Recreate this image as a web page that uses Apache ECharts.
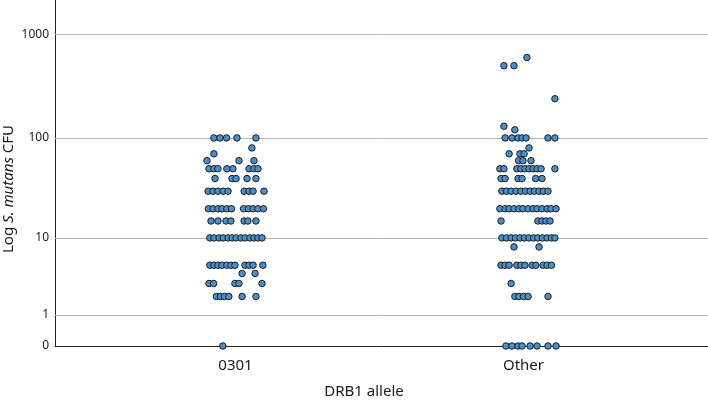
<!DOCTYPE html>
<html>
<head>
<meta charset="utf-8">
<script src="https://cdn.jsdelivr.net/npm/echarts@6/dist/echarts.min.js"></script>
<style>
  html, body { margin: 0; padding: 0; background: #fff; }
  #chart { width: 708px; height: 401px; }
</style>
</head>
<body>
<div id="chart"></div>
<script>
const categories = ['0301', 'Other'];
const yTicks = [0, 1, 10, 100, 1000];
const gridValues = [1, 10, 100, 1000];

// CFU level of each row of dots, and the sideways jitter of each dot in that row (category units)
const levels0301 = [100, 80, 70, 60, 50, 40, 30, 20, 15, 10, 5, 4, 3, 2, 0];
const jitter0301 = [
  [-0.075, -0.054, -0.031, 0.005, 0.071],
  [0.057],
  [-0.075],
  [-0.099, 0.012, 0.064],
  [-0.092, -0.075, -0.061, -0.030, -0.009, 0.047, 0.064, 0.078],
  [-0.071, -0.012, 0.002, 0.040, 0.071],
  [-0.095, -0.078, -0.061, -0.043, -0.026, 0.030, 0.047, 0.061, 0.099],
  [-0.094, -0.078, -0.061, -0.047, -0.030, -0.014, 0.028, 0.045, 0.061, 0.078, 0.097],
  [-0.085, -0.061, -0.033, -0.016, 0.030, 0.043, 0.071],
  [-0.089, -0.075, -0.057, -0.043, -0.026, -0.012, 0.002, 0.019, 0.033, 0.050, 0.064, 0.078, 0.092],
  [-0.089, -0.075, -0.061, -0.047, -0.030, -0.016, -0.002, 0.033, 0.047, 0.061, 0.095],
  [0.023, 0.068],
  [-0.092, -0.076, -0.002, 0.012, 0.092],
  [-0.066, -0.052, -0.038, -0.023, 0.023, 0.071],
  [-0.044]
];

const levelsOther = [600, 500, 240, 130, 120, 100, 80, 70, 60, 50, 40, 30, 20, 15, 10, 8, 5, 3, 2, 0];
const jitterOther = [
  [0.012],
  [-0.068, -0.033],
  [0.109],
  [-0.068],
  [-0.030],
  [-0.064, -0.040, -0.019, -0.005, 0.009, 0.085, 0.109],
  [0.019],
  [-0.050, -0.012, 0.002],
  [-0.017, -0.002, 0.026],
  [-0.082, -0.068, -0.023, -0.009, 0.005, 0.019, 0.033, 0.047, 0.061, 0.109],
  [-0.078, -0.064, -0.019, -0.005, 0.042, 0.064],
  [-0.075, -0.059, -0.043, -0.026, -0.009, 0.007, 0.023, 0.038, 0.054, 0.069, 0.085],
  [-0.082, -0.064, -0.050, -0.033, -0.016, -0.002, 0.016, 0.033, 0.047, 0.064, 0.082, 0.095, 0.113],
  [-0.078, 0.050, 0.064, 0.078, 0.092],
  [-0.075, -0.059, -0.043, -0.028, -0.012, 0.003, 0.019, 0.035, 0.050, 0.066, 0.082, 0.097, 0.109],
  [-0.033, 0.054],
  [-0.078, -0.064, -0.050, -0.023, -0.009, 0.005, 0.030, 0.043, 0.068, 0.082, 0.097],
  [-0.043],
  [-0.030, -0.016, 0, 0.016, 0.085],
  [-0.061, -0.040, -0.019, -0.005, 0.023, 0.047, 0.085, 0.113]
];

const FONT = 'Noto Sans';
const TEXT = '#1a1a1a';

// y is drawn as log10(CFU + 1) so that 0 fits on the scale
function logCfu(v) {
  return Math.log10(v + 1);
}

function buildPoints(groupIndex, levels, jitter) {
  const pts = [];
  levels.forEach((v, i) => {
    jitter[i].forEach(j => pts.push([groupIndex + j, logCfu(v)]));
  });
  return pts;
}

const dotStyle = { color: '#4b8fca', borderColor: '#1c1c1c', borderWidth: 1, opacity: 1 };

const chart = echarts.init(document.getElementById('chart'));
chart.setOption({
  animation: false,
  grid: { left: 55, right: 0, top: 0, bottom: 55, containLabel: false, outerBoundsMode: 'none' },
  xAxis: {
    type: 'value',
    min: -0.6267,
    max: 1.6406,
    axisLine: { show: true, onZero: false, lineStyle: { color: '#222', width: 1 } },
    axisTick: { show: false },
    splitLine: { show: false },
    axisLabel: {
      customValues: [0, 1],
      formatter: v => categories[Math.round(v)],
      fontFamily: FONT,
      fontSize: 15,
      color: TEXT,
      margin: 12
    }
  },
  yAxis: {
    type: 'value',
    min: 0,
    max: 3.333,
    axisLine: { show: true, onZero: false, lineStyle: { color: '#222', width: 1 } },
    axisTick: { show: false },
    splitLine: { show: false },
    axisLabel: {
      customValues: yTicks.map(logCfu),
      formatter: v => String(Math.round(Math.pow(10, v) - 1)),
      fontFamily: FONT,
      fontSize: 12,
      color: TEXT,
      margin: 6
    }
  },
  graphic: [
    {
      type: 'text',
      x: 9,
      y: 189,
      rotation: Math.PI / 2,
      style: {
        text: '{a|Log }{b|S. mutans}{a| CFU}',
        align: 'center',
        verticalAlign: 'middle',
        rich: {
          a: { fontFamily: FONT, fontSize: 15, fill: TEXT },
          b: { fontFamily: FONT, fontSize: 15, fontStyle: 'italic', fill: TEXT }
        }
      }
    },
    {
      type: 'text',
      x: 364,
      y: 392,
      style: {
        text: 'DRB1 allele',
        align: 'center',
        verticalAlign: 'middle',
        fontFamily: FONT,
        fontSize: 15,
        fill: TEXT
      }
    }
  ],
  series: [
    {
      // carries the horizontal reference lines under the dots
      type: 'scatter',
      data: [],
      z: 1,
      markLine: {
        silent: true,
        z: 1,
        symbol: 'none',
        label: { show: false },
        lineStyle: { color: '#b5b5b5', width: 1, type: 'solid' },
        data: gridValues.map(v => ({ yAxis: logCfu(v) }))
      }
    },
    {
      name: categories[0],
      type: 'scatter',
      z: 3,
      symbolSize: 6.5,
      itemStyle: dotStyle,
      data: buildPoints(0, levels0301, jitter0301)
    },
    {
      name: categories[1],
      type: 'scatter',
      z: 3,
      symbolSize: 6.5,
      itemStyle: dotStyle,
      data: buildPoints(1, levelsOther, jitterOther)
    }
  ]
});
</script>
</body>
</html>
